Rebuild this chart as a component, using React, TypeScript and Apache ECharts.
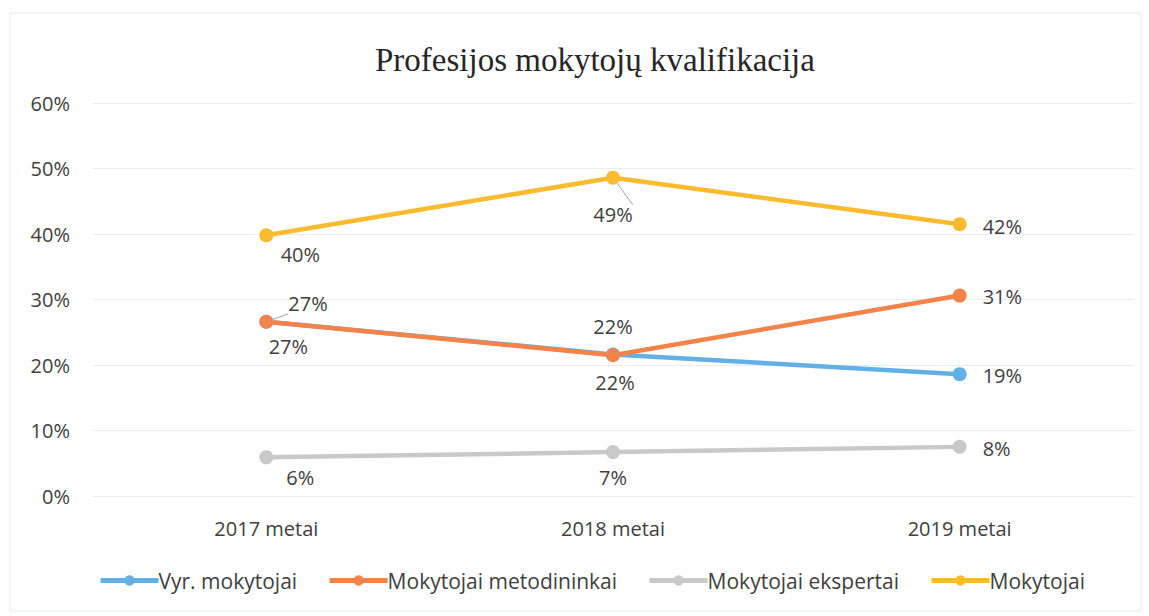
import React, { useEffect, useRef } from "react";
import * as echarts from "echarts";

const categories = ["2017 metai", "2018 metai", "2019 metai"];
const yTicks = [0, 10, 20, 30, 40, 50, 60];
const seriesNames = ["Vyr. mokytojai", "Mokytojai metodininkai", "Mokytojai ekspertai", "Mokytojai"];
const vyrMokytojai = [26.6, 21.6, 18.6];
const metodininkai = [26.6, 21.5, 30.6];
const ekspertai = [5.9, 6.7, 7.5];
const mokytojai = [39.8, 48.6, 41.5];
const colors = ["#62B1E6", "#F4834A", "#C9C9C9", "#FBBB2E"];

// label placement per point: [position, offsetX, offsetY, leader line]
const labelPos: Array<Array<[string, number, number, boolean]>> = [
  [["right", 7, -18, true], ["top", 0, -3, false], ["right", 8, 1, false]],
  [["bottom", 22, 0, false], ["bottom", 2, 2, false], ["right", 8, 1, false]],
  [["bottom", 34, -5, false], ["bottom", 0, 0, false], ["right", 8, 2, false]],
  [["bottom", 34, -6, false], ["bottom", 0, 12, true], ["right", 8, 2, false]],
];

const TEXT = "#404040";
const FONT = "Open Sans";

export default function App() {
  const ref = useRef<HTMLDivElement>(null);
  useEffect(() => {
    if (!ref.current) return;
    const chart = echarts.init(ref.current, null, { renderer: "svg" });
    const all = [vyrMokytojai, metodininkai, ekspertai, mokytojai];
    chart.setOption({
      animation: false,
      backgroundColor: "#ffffff",
      title: {
        text: "Profesijos mokytojų kvalifikacija",
        left: 370,
        top: 38,
        textStyle: {
          fontFamily: "Liberation Serif",
          fontWeight: "normal",
          fontSize: 33,
          color: "#262626",
        },
      },
      graphic: [
        {
          type: "rect",
          shape: { x: 10, y: 13, width: 1131, height: 598 },
          style: { fill: "none", stroke: "#e6ecee", lineWidth: 1 },
          silent: true,
        },
      ],
      legend: {
        bottom: 20,
        left: 93,
        itemWidth: 58,
        itemHeight: 13,
        itemGap: 30,
        data: seriesNames,
        lineStyle: { width: 5 },
        textStyle: { fontFamily: FONT, fontSize: 21, color: TEXT, padding: [0, 0, 0, -5] },
      },
      grid: { left: 93, right: 16, top: 103, bottom: 120 },
      xAxis: {
        type: "category",
        data: categories,
        boundaryGap: true,
        axisLine: { show: false },
        axisTick: { show: false },
        axisLabel: { fontFamily: FONT, fontSize: 20, color: TEXT, margin: 22 },
      },
      yAxis: {
        type: "value",
        min: yTicks[0],
        max: yTicks[yTicks.length - 1],
        interval: 10,
        axisLine: { show: false },
        axisTick: { show: false },
        splitLine: { lineStyle: { color: "#ececec", width: 1 } },
        axisLabel: {
          fontFamily: FONT,
          fontSize: 20,
          color: TEXT,
          margin: 23,
          formatter: (v: number) => v + "%",
        },
      },
      series: all.map((vals, si) => ({
        name: seriesNames[si],
        type: "line",
        color: colors[si],
        symbol: "circle",
        symbolSize: 14,
        lineStyle: { width: 4.5, color: colors[si] },
        itemStyle: { color: colors[si] },
        data: vals.map((v, i) => ({
          value: v,
          label: {
            show: true,
            position: labelPos[si][i][0],
            offset: [labelPos[si][i][1], labelPos[si][i][2]],
            formatter: (p: any) => Math.round(p.value) + "%",
            fontFamily: FONT,
            fontSize: 20,
            color: TEXT,
            distance: 8,
          },
          labelLine: labelPos[si][i][3]
            ? { show: true, lineStyle: { color: "#a6a6a6", width: 1 } }
            : { show: false },
        })),
      })),
    });
    return () => chart.dispose();
  }, []);
  return <div ref={ref} style={{ width: 1149, height: 616, position: "absolute", left: 0, top: 0 }} />;
}
